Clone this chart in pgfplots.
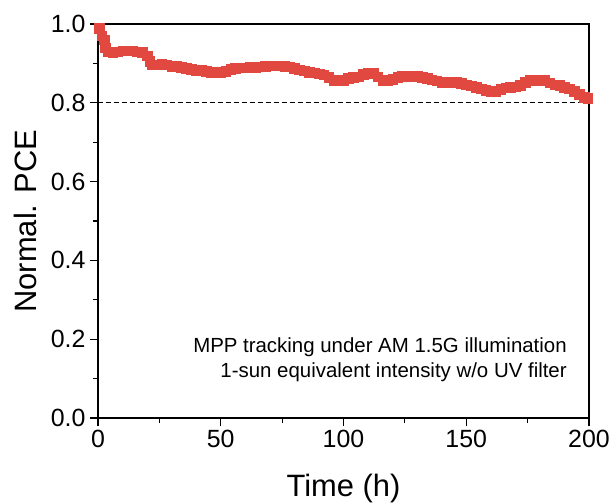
\documentclass[border=0pt]{standalone}
\usepackage{pgfplots}
\pgfplotsset{compat=1.18}
\usepackage{fontspec}
\setmainfont{Liberation Sans}
\definecolor{pcered}{RGB}{224,72,64}
\begin{document}
\begin{tikzpicture}[x=1bp,y=1bp]
\begin{axis}[
  scale only axis,
  width=491bp, height=394bp,
  xmin=0, xmax=200, ymin=0, ymax=1.0,
  xtick={0,50,100,150,200},
  ytick={0,0.2,0.4,0.6,0.8,1.0},
  minor xtick={25,75,125,175},
  minor ytick={0.1,0.3,0.5,0.7,0.9},
  yticklabel style={/pgf/number format/fixed,/pgf/number format/fixed zerofill,/pgf/number format/precision=1, xshift=-1bp},
  /pgf/number format/assume math mode=true,
  tick align=outside,
  xtick pos=bottom, ytick pos=left,
  major tick length=8bp, minor tick length=5bp,
  axis line style={line width=1.2bp},
  every tick/.style={black, line width=1.2bp},
  ticklabel style={font=\fontsize{25}{30}\selectfont},
  xticklabel style={yshift=-1bp},
  xlabel={Time (h)},
  ylabel={Normal. PCE},
  label style={font=\fontsize{31}{36}\selectfont},
  xlabel style={at={(axis description cs:0.5,-0.178)}, anchor=center},
  ylabel style={at={(axis description cs:-0.147,0.5)}, anchor=center},
  clip=false,
]
\addplot[black, line width=1.3bp, dash pattern=on 5bp off 3bp] coordinates {(0,0.8) (200,0.8)};
\addplot[only marks, mark=square*, mark size=4.8bp, color=pcered, mark options={draw=pcered, fill=pcered}] coordinates {
(0.5,0.99) (1.5,0.97) (2.5,0.96) (3,0.94) (4,0.93) (6,0.928) (8,0.93) (10,0.932) (12,0.932) (14,0.932)
(16,0.93) (18,0.928) (20,0.92) (21,0.905) (22,0.897) (24,0.897) (26,0.898) (28,0.897) (30,0.893) (32,0.893)
(34,0.89) (36,0.888) (38,0.885) (40,0.883) (42,0.882) (44,0.88) (46,0.878) (48,0.876) (50,0.877) (52,0.88)
(54,0.886) (56,0.888) (58,0.889) (60,0.889) (62,0.89) (64,0.891) (66,0.892) (68,0.893) (70,0.894) (72,0.894)
(74,0.894) (76,0.893) (78,0.892) (80,0.888) (82,0.884) (84,0.881) (86,0.878) (88,0.876) (90,0.874) (92,0.871)
(94,0.865) (96,0.858) (98,0.857) (100,0.858) (102,0.862) (104,0.865) (106,0.866) (108,0.872) (110,0.876) (112,0.875)
(114,0.866) (116,0.858) (118,0.856) (120,0.86) (122,0.865) (124,0.867) (126,0.868) (128,0.869) (130,0.868) (132,0.865)
(134,0.862) (136,0.859) (138,0.856) (140,0.853) (142,0.853) (144,0.853) (146,0.852) (148,0.849) (150,0.846) (152,0.843)
(154,0.84) (156,0.836) (158,0.832) (160,0.829) (162,0.83) (164,0.835) (166,0.838) (168,0.84) (170,0.841) (172,0.845)
(174,0.853) (176,0.857) (178,0.858) (180,0.858) (182,0.857) (184,0.851) (186,0.846) (188,0.844) (190,0.84) (192,0.836)
(194,0.83) (196,0.822) (198,0.814) (199.5,0.812)
};
\node[anchor=base east, font=\fontsize{20.5}{24}\selectfont, inner sep=0pt] at (axis description cs:0.955,0.165) {MPP tracking under AM 1.5G illumination};
\node[anchor=base east, font=\fontsize{20.5}{24}\selectfont, inner sep=0pt] at (axis description cs:0.955,0.104) {1-sun equivalent intensity w/o UV filter};
\end{axis}
\pgfresetboundingbox
\path[use as bounding box] (-98bp,-86bp) rectangle (516bp,418bp);
\end{tikzpicture}
\end{document}
